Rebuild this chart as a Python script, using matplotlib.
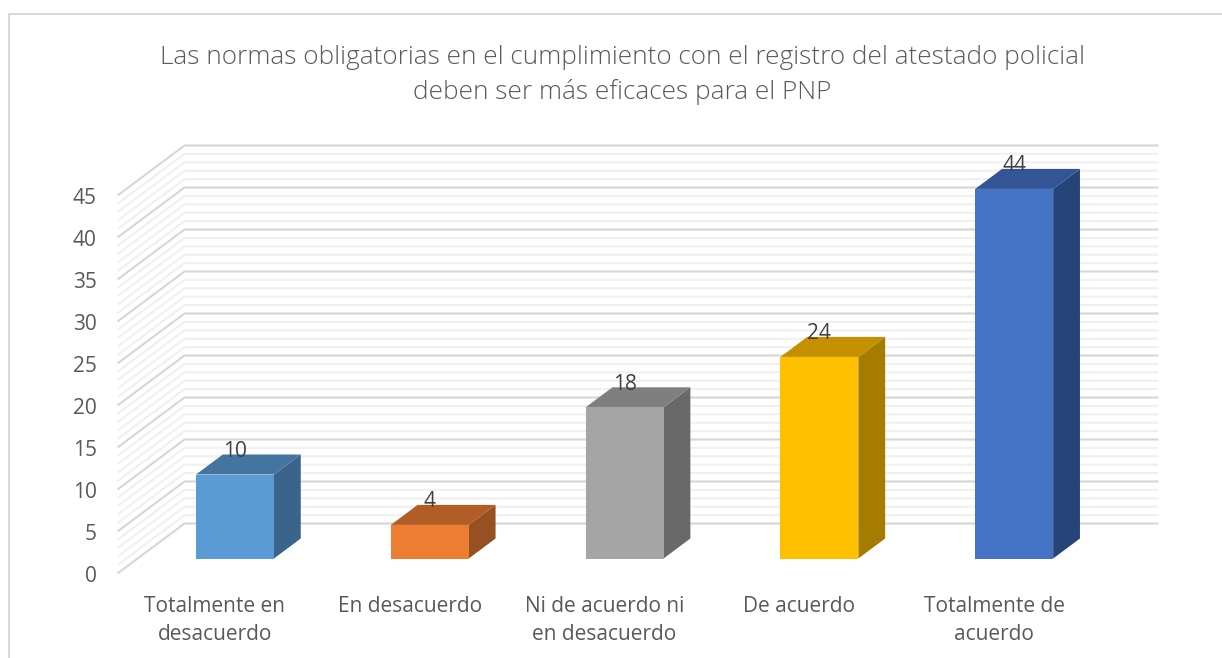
import matplotlib
matplotlib.use("Agg")
from matplotlib import pyplot as plt
from matplotlib.patches import Polygon
from matplotlib.transforms import ScaledTranslation

categories = ["Totalmente en\ndesacuerdo", "En desacuerdo", "Ni de acuerdo ni\nen desacuerdo",
              "De acuerdo", "Totalmente de\nacuerdo"]
values = [10, 4, 18, 24, 44]
front_colors = ["#5B9BD5", "#ED7D31", "#A5A5A5", "#FFC000", "#4472C4"]
top_colors = ["#44749F", "#B25D25", "#7F7F7F", "#C49000", "#335596"]
side_colors = ["#3A6489", "#965022", "#696969", "#A57C00", "#264478"]
title = "Las normas obligatorias en el cumplimiento con el registro del atestado policial\ndeben ser más eficaces para el PNP"

W, H = 1222, 658
plt.rcParams["font.family"] = "Open Sans"

fig = plt.figure(figsize=(W / 100, H / 100), dpi=100)

# Axes is the front plane of the 3d box, everything else is sheared back from it
left, right, bottom, top = 117.5, 1091.5, 573.5, 195.5
ax = fig.add_axes([left / W, 1 - bottom / H, (right - left) / W, (bottom - top) / H])
ax.set_xlim(-0.5, 4.5)
ax.set_ylim(0, 45)
ax.patch.set_visible(False)
for s in ax.spines.values():
    s.set_visible(False)

# depth of the box in data units
depth_x = 67 / ((right - left) / 5)
depth_y = 50 / ((bottom - top) / 45)


def shear(x, y, t):
    return (x + depth_x * t, y + depth_y * t)


# Walls
for v in range(0, 46):
    major = v % 5 == 0
    color = "#D6D6D6" if major else "#F0F0F0"
    pts = [shear(-0.5, v, 0), shear(-0.5, v, 1), shear(4.5, v, 1)]
    ax.plot([p[0] for p in pts], [p[1] for p in pts], color=color, lw=1.5,
            clip_on=False, zorder=2 if major else 1, solid_joinstyle="miter",
            solid_capstyle="butt")

# Bars
bar_w = 0.4
for i, v in enumerate(values):
    x0, x1 = i - bar_w / 2, i + bar_w / 2
    t0, t1 = 0.3, 0.7
    front = [shear(x0, 0, t0), shear(x1, 0, t0), shear(x1, v, t0), shear(x0, v, t0)]
    side = [shear(x1, 0, t0), shear(x1, 0, t1), shear(x1, v, t1), shear(x1, v, t0)]
    roof = [shear(x0, v, t0), shear(x1, v, t0), shear(x1, v, t1), shear(x0, v, t1)]
    ax.add_patch(Polygon(side, fc=side_colors[i], ec="none", clip_on=False, zorder=3))
    ax.add_patch(Polygon(roof, fc=top_colors[i], ec="none", clip_on=False, zorder=3))
    ax.add_patch(Polygon(front, fc=front_colors[i], ec="none", clip_on=False, zorder=4))
    lx, ly = shear(i, v, t1)
    ax.annotate(str(v), (lx - depth_x * t1 + depth_x * t0, ly), xytext=(0, 2.2),
                textcoords="offset points", ha="center", va="center",
                fontsize=15, color="#404040", zorder=5, annotation_clip=False)

ax.set_xticks(range(5), categories)
ax.set_yticks(range(0, 46, 5))
ax.tick_params(axis="both", length=0, labelsize=15, labelcolor="#595959")
ax.tick_params(axis="y", pad=15)
ax.tick_params(axis="x", pad=16)
for lab in ax.get_xticklabels():
    lab.set_linespacing(1.48)
# tick labels sit a touch lower than the gridline ends
for lab in ax.get_yticklabels():
    lab.set_transform(lab.get_transform() + ScaledTranslation(0, -1 / 100, fig.dpi_scale_trans))

fig.text(622 / W, 1 - 75 / H, title, ha="center", va="center", fontsize=18.8,
         fontweight="light", color="#5A5A5A", linespacing=1.44)

# Chart frame, only top and left show in the screenshot
fig.add_artist(plt.Line2D([8.5 / W, 8.5 / W, 1], [0, 1 - 14 / H, 1 - 14 / H],
                          color="#D9D9D9", lw=1.5, solid_joinstyle="miter"))

fig.savefig("out.png", dpi=100)
